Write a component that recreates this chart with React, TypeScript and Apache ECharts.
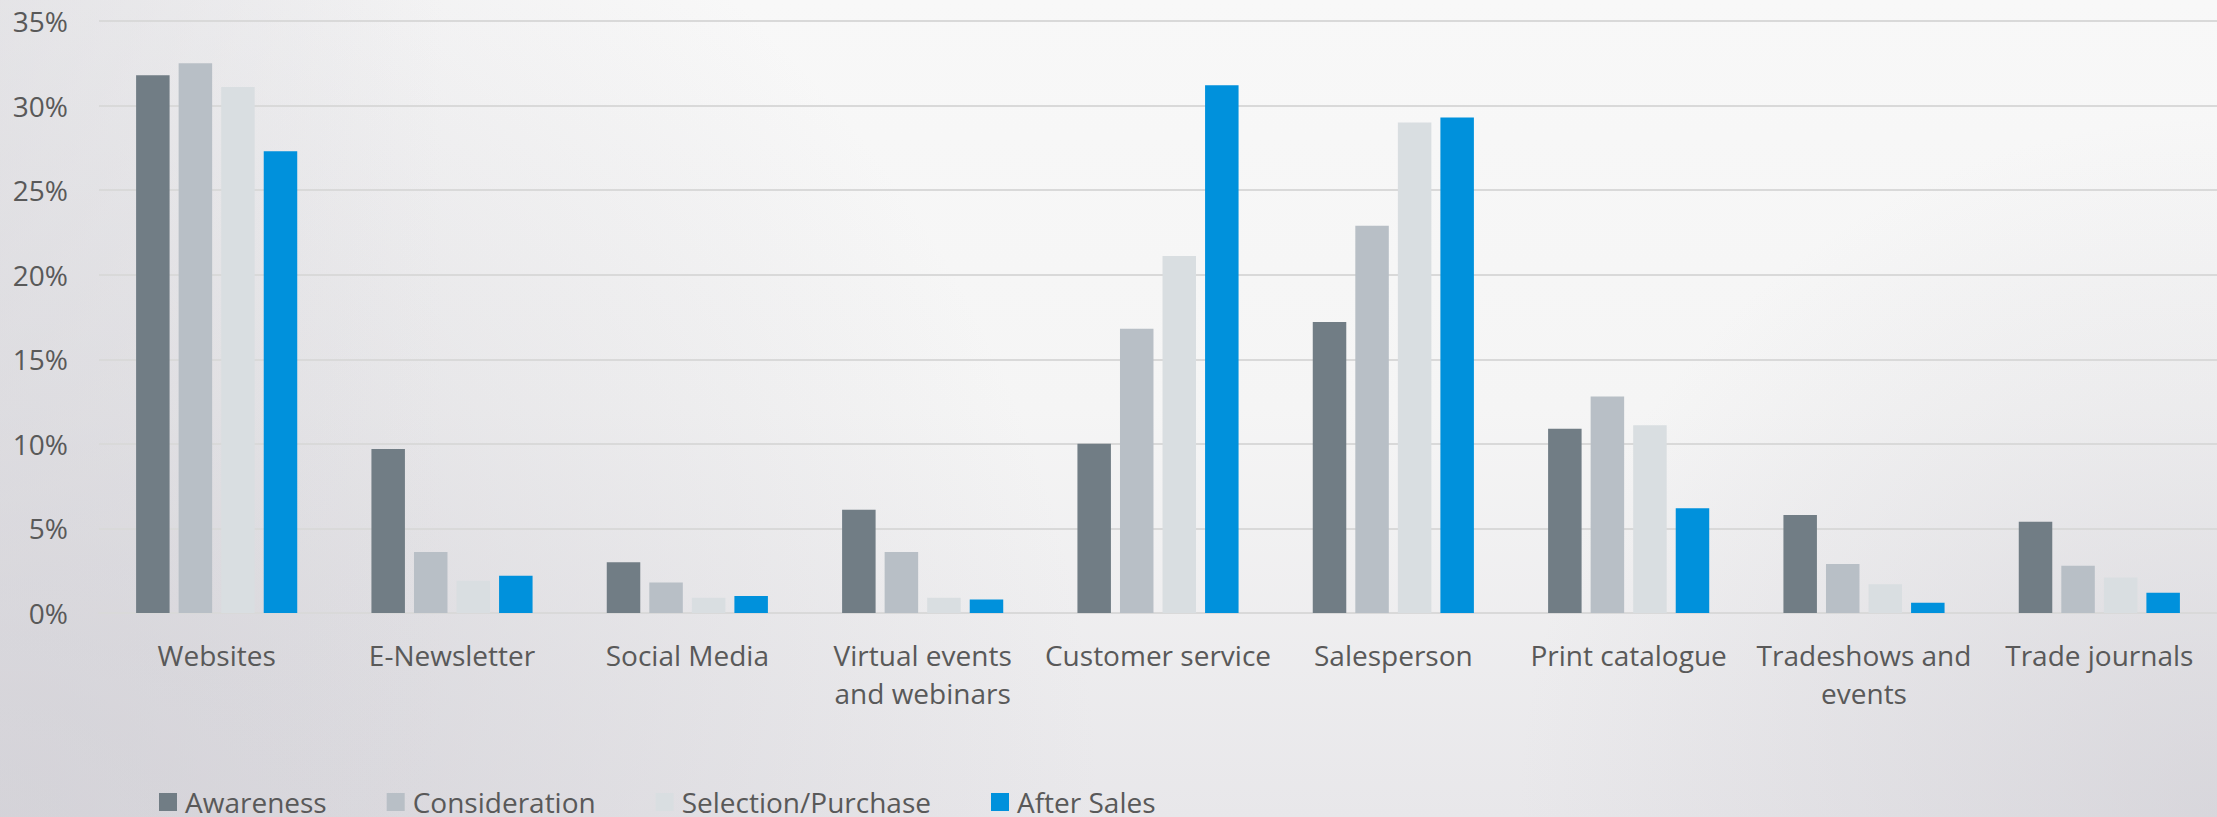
import React, { useEffect, useRef } from "react";
import * as echarts from "echarts";

const categories = [
  "Websites",
  "E-Newsletter",
  "Social Media",
  "Virtual events\nand webinars",
  "Customer service",
  "Salesperson",
  "Print catalogue",
  "Tradeshows and\nevents",
  "Trade journals",
];

const awareness = [31.8, 9.7, 3.0, 6.1, 10.0, 17.2, 10.9, 5.8, 5.4];
const consideration = [32.5, 3.6, 1.8, 3.6, 16.8, 22.9, 12.8, 2.9, 2.8];
const selectionPurchase = [31.1, 1.9, 0.9, 0.9, 21.1, 29.0, 11.1, 1.7, 2.1];
const afterSales = [27.3, 2.2, 1.0, 0.8, 31.2, 29.3, 6.2, 0.6, 1.2];

const seriesNames = ["Awareness", "Consideration", "Selection/Purchase", "After Sales"];
const seriesColors = ["#717d85", "#b8bfc6", "#d9dee1", "#0091dc"];
const yTicks = { min: 0, max: 35, interval: 5 };

const W = 2217;
const H = 817;
const FONT = "'Open Sans', Lato, sans-serif";
const TEXT = "#595959";

export default function App() {
  const ref = useRef<HTMLDivElement>(null);

  useEffect(() => {
    document.body.style.margin = "0";
    if (!ref.current) return;
    const chart = echarts.init(ref.current, undefined, { renderer: "svg", width: W, height: H });
    const values = [awareness, consideration, selectionPurchase, afterSales];

    chart.setOption({
      animation: false,
      textStyle: { fontFamily: FONT },
      graphic: [
        {
          type: "rect",
          z: -30,
          silent: true,
          shape: { x: 0, y: 0, width: W, height: H },
          style: {
            fill: new echarts.graphic.LinearGradient(0, 0, 0, 1, [
              { offset: 0, color: "#f8f8f8" },
              { offset: 0.5, color: "#f5f5f5" },
              { offset: 1, color: "#e8e7ea" },
            ]),
          },
        },
        {
          type: "rect",
          z: -29,
          silent: true,
          shape: { x: 0, y: 0, width: W, height: H },
          style: {
            fill: new echarts.graphic.RadialGradient(0, H, 1100, [
              { offset: 0, color: "rgba(196,194,202,0.6)" },
              { offset: 1, color: "rgba(196,194,202,0)" },
            ], true),
          },
        },
        {
          type: "rect",
          z: -28,
          silent: true,
          shape: { x: 0, y: 0, width: W, height: H },
          style: {
            fill: new echarts.graphic.RadialGradient(W, H, 700, [
              { offset: 0, color: "rgba(196,194,202,0.45)" },
              { offset: 1, color: "rgba(196,194,202,0)" },
            ], true),
          },
        },
        {
          type: "rect",
          z: -27,
          silent: true,
          shape: { x: 0, y: 0, width: W, height: H },
          style: {
            fill: new echarts.graphic.LinearGradient(0, 0, 1, 0, [
              { offset: 0, color: "rgba(215,214,219,0.45)" },
              { offset: 0.2, color: "rgba(215,214,219,0)" },
              { offset: 1, color: "rgba(215,214,219,0)" },
            ]),
          },
        },
      ],
      grid: { left: 99, right: 0, top: 21, bottom: 204, containLabel: false },
      legend: {
        data: seriesNames,
        left: 154,
        top: 783,
        icon: "rect",
        itemWidth: 18,
        itemHeight: 18,
        itemGap: 60,
        textStyle: { fontSize: 28, color: TEXT, fontFamily: FONT, lineHeight: 28, padding: [0, 0, 0, 3] },
      },
      xAxis: {
        type: "category",
        data: categories,
        axisTick: { show: false },
        axisLine: { show: true, lineStyle: { color: "#d9d9d9", width: 2 } },
        axisLabel: {
          interval: 0,
          fontSize: 28,
          lineHeight: 38,
          color: TEXT,
          fontFamily: FONT,
          margin: 23,
        },
      },
      yAxis: {
        type: "value",
        min: yTicks.min,
        max: yTicks.max,
        interval: yTicks.interval,
        axisLine: { show: false },
        axisTick: { show: false },
        splitLine: { lineStyle: { color: "#d9d9d9", width: 2 } },
        axisLabel: {
          formatter: "{value}%",
          fontSize: 28,
          color: TEXT,
          fontFamily: FONT,
          margin: 31,
        },
      },
      series: seriesNames.map((name, i) => ({
        name,
        type: "bar",
        data: values[i],
        barWidth: 33.5,
        barGap: "27%",
        itemStyle: { color: seriesColors[i] },
      })),
    });

    return () => chart.dispose();
  }, []);

  return <div ref={ref} style={{ width: W, height: H }} />;
}
